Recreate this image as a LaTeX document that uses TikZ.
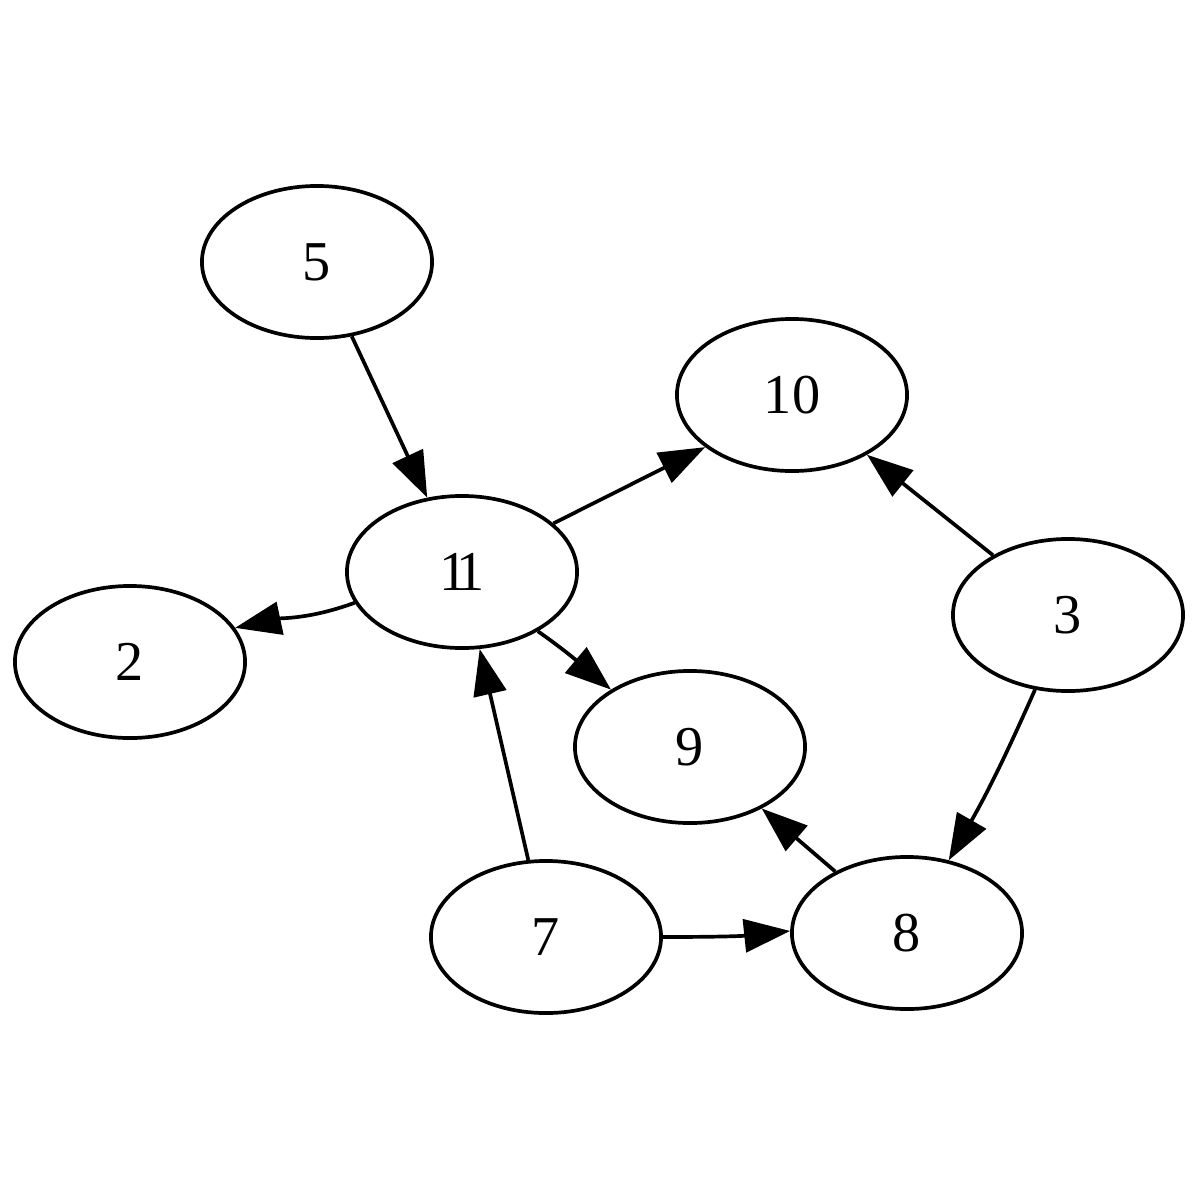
\documentclass[tikz,border=0pt]{standalone}
\usepackage{fontspec}
\setmainfont{Liberation Serif}
\usetikzlibrary{shapes.geometric,arrows.meta}
\begin{document}
\begin{tikzpicture}[x=0.01cm,y=-0.01cm,
  vtx/.style={ellipse,draw,line width=1.05pt,minimum width=2.3cm,minimum height=1.52cm,inner sep=0pt,font=\fontsize{16}{18}\selectfont},
  edge/.style={line width=1.05pt,-{Triangle[length=0.46cm,width=0.33cm]}}]
\useasboundingbox (0,0) rectangle (1200,1200);
\node[vtx] (n5) at (317,262) {5};
\node[vtx] (n10) at (792,395) {10};
\node[vtx] (n11) at (462,572) {1\kern-0.2em1};
\node[vtx] (n2) at (130,662) {2};
\node[vtx] (n3) at (1068,615) {3};
\node[vtx] (n9) at (690,747) {9};
\node[vtx] (n7) at (546,937) {7};
\node[vtx] (n8) at (907,933) {8};
\draw[edge] (n5) -- (n11);
\draw[edge] (n11.28) -- (n10.211);
\draw[edge] (n3) -- (n10);
\draw[edge] (n11.196) to[out=200,in=12] (n2.18);
\draw[edge] (n11.-38) to[out=-35,in=140] (n9.144);
\draw[edge] (n7) -- (n11);
\draw[edge] (n3) to[bend left=3] (n8);
\draw[edge] (n8) -- (n9);
\draw[edge] (n7.east) to[out=0,in=186] (n8.179);
\end{tikzpicture}
\end{document}
